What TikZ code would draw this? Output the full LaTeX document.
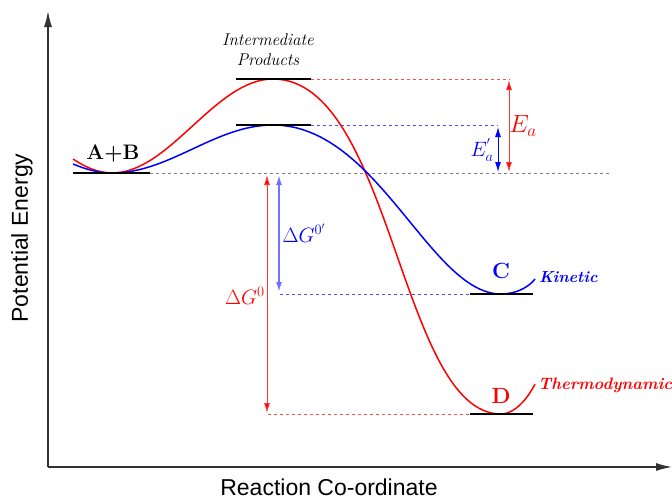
\documentclass[tikz,border=0pt]{standalone}
\usepackage{fontspec}
\newfontfamily\arialfont{Liberation Sans}
\usetikzlibrary{arrows.meta}
\definecolor{myred}{RGB}{255,0,0}
\definecolor{myblue}{RGB}{0,0,255}
\definecolor{axisgray}{RGB}{50,50,50}
\begin{document}
\begin{tikzpicture}[x=1pt,y=-1pt,
  axis/.style={draw=axisgray,line width=1.3pt,-{Latex[length=16pt,width=8pt]}},
  level/.style={draw=black,line width=1.2pt},
  redcurve/.style={draw=myred,line width=1.5pt},
  bluecurve/.style={draw=myblue,line width=1.5pt},
  reddash/.style={draw=myred!70,line width=0.8pt,dash pattern=on 3pt off 3pt},
  bluedash/.style={draw=myblue!70,line width=0.8pt,dash pattern=on 3pt off 3pt},
  graydash/.style={draw=gray,line width=1pt,dash pattern=on 3pt off 3pt},
  redarrow/.style={draw=myred!80,line width=0.9pt,{Latex[length=10pt,width=6pt,fill=myred]}-{Latex[length=10pt,width=6pt,fill=myred]}},
  bluearrow/.style={draw=myblue,line width=1pt,{Latex[length=10pt,width=6pt]}-{Latex[length=10pt,width=6pt]}},
  axlabel/.style={font=\arialfont\fontsize{23}{26}\selectfont},
  lbl/.style={inner sep=0pt}
]
\useasboundingbox (0,0) rectangle (672,501);
% axes
\coordinate (O) at (48,467);
\coordinate (Ytop) at (48,11);
\coordinate (Xend) at (672,467);
\draw[axis] (O) -- (Ytop);
\draw[axis] (O) -- (Xend);
\node[axlabel,rotate=90] (ylab) at (22,238) {Potential Energy};
\node[axlabel] (xlab) at (329,487) {Reaction Co-ordinate};
% level coordinates
\coordinate (r0) at (73,173); \coordinate (r1) at (150,173);
\coordinate (g1) at (610,173);
\coordinate (t0) at (236,79); \coordinate (t1) at (311,79); \coordinate (t2) at (510,79);
\coordinate (b0) at (236,125); \coordinate (b1) at (311,125); \coordinate (b2) at (498,125);
\coordinate (c0) at (470,294); \coordinate (c1) at (533,294); \coordinate (cl) at (280,294);
\coordinate (d0) at (470,414); \coordinate (d1) at (533,414); \coordinate (dl) at (268,414);
% dashed guides
\draw[graydash] (r1) -- (g1);
\draw[reddash] (t1) -- (t2);
\draw[bluedash] (b1) -- (b2);
\draw[bluedash] (cl) -- (c0);
\draw[reddash] (dl) -- (d0);
% curves
\draw[redcurve] (73,159) .. controls (85,167) and (98,173) .. (112,173)
  .. controls (170,173) and (215,79) .. (273,79)
  .. controls (392,79) and (400,414) .. (501,414)
  .. controls (515,414) and (528,398) .. (535,384);
\draw[bluecurve] (73,164) .. controls (85,169) and (98,173) .. (112,173)
  .. controls (170,173) and (215,125) .. (273,125)
  .. controls (378,125) and (430,294) .. (501,294)
  .. controls (515,294) and (528,288) .. (535,279);
% levels
\draw[level] (r0) -- (r1);
\draw[level] (t0) -- (t1);
\draw[level] (b0) -- (b1);
\draw[level] (c0) -- (c1);
\draw[level] (d0) -- (d1);
% energy arrows
\coordinate (ea0) at (509,80); \coordinate (ea1) at (509,172);
\coordinate (eb0) at (498,127); \coordinate (eb1) at (498,172);
\coordinate (dg0) at (267,175); \coordinate (dg1) at (267,413);
\coordinate (dh0) at (279,175); \coordinate (dh1) at (279,292);
\draw[redarrow] (ea0) -- (ea1);
\draw[bluearrow] (eb0) -- (eb1);
\draw[redarrow] (dg0) -- (dg1);
\draw[bluearrow,draw=myblue!55,line width=1.6pt,{Latex[length=10pt,width=6pt,fill=myblue]}-{Latex[length=10pt,width=6pt,fill=myblue]}] (dh0) -- (dh1);
% labels
\node[lbl,text=myred,font=\fontsize{23}{26}\selectfont] (Ea) at (523,126) {$E_a$};
\node[lbl,text=myblue,font=\fontsize{22}{26}\selectfont] (Eb) at (482,150) {$E_a^{'}$};
\node[lbl,text=myred,font=\fontsize{20}{24}\selectfont] (dG) at (245,296) {$\Delta G^{0}$};
\node[lbl,text=myblue,font=\fontsize{20}{24}\selectfont] (dGp) at (304,233) {$\Delta G^{0'}$};
\node[lbl,font=\bfseries\fontsize{21}{24}\selectfont] (AB) at (113,153) {A+B};
\node[lbl,font=\itshape\fontsize{17}{19}\selectfont,align=center] (IP) at (268,50) {Intermediate\\[1pt]Products};
\node[lbl,text=myblue,font=\bfseries\fontsize{22}{24}\selectfont] (C) at (501,271) {C};
\node[lbl,text=myblue,font=\bfseries\itshape\fontsize{16}{18}\selectfont,anchor=west] (kin) at (539,277) {Kinetic};
\node[lbl,text=myred,font=\bfseries\itshape\fontsize{16.5}{18}\selectfont,anchor=west] (thermo) at (538,385) {Thermodynamic};
\node[lbl,text=myred,font=\bfseries\fontsize{22}{24}\selectfont] (D) at (501,396) {D};
\end{tikzpicture}
\end{document}
